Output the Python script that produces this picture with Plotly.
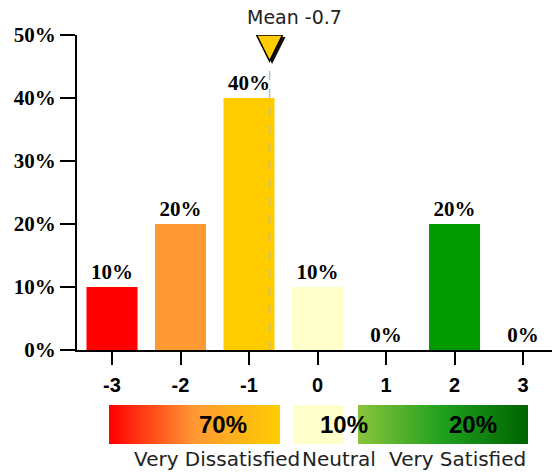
import plotly.graph_objects as go

# ---- data ----
scores = [-3, -2, -1, 0, 1, 2, 3]
shares = [0.10, 0.20, 0.40, 0.10, 0.00, 0.20, 0.00]
bar_colors = ["#FF0000", "#FF9933", "#FFCC00", "#FFFFCC", "#99CC33", "#009900", "#006600"]
group_labels = ["Very Dissatisfied", "Neutral", "Very Satisfied"]
y_ticks = [0, 0.1, 0.2, 0.3, 0.4, 0.5]

mean = sum(s * p for s, p in zip(scores, shares))
dissat = sum(p for s, p in zip(scores, shares) if s < 0)
neutral = sum(p for s, p in zip(scores, shares) if s == 0)
sat = sum(p for s, p in zip(scores, shares) if s > 0)

W, H = 552, 473
def dx(a, b):
    return [a / W, b / W]
def dy(top, bottom):
    return [(H - bottom) / H, (H - top) / H]

serif_b = dict(family="Liberation Serif", size=21, color="black", weight="bold")
sans_b = dict(family="Liberation Sans", size=20, color="black", weight="bold")

fig = go.Figure()
fig.add_trace(go.Bar(
    x=scores, y=shares, marker=dict(color=bar_colors, line=dict(width=0)),
    text=[f"{p:.0%}" for p in shares], textposition="outside",
    textfont=serif_b, cliponaxis=False, width=0.745, hoverinfo="skip",
))

# gradient boxes: (x axis, y axis, pixel extent, colorscale, value, text position in box)
boxes = [
    ("x2", "y2", (109, 280), [[0, "#FF0000"], [0.5, "#FF9933"], [1, "#FFCC00"]], dissat, 0.667),
    ("x3", "y3", (294, 343), [[0, "#FFFFCC"], [1, "#FFFFCC"]], neutral, 1.02),
    ("x4", "y4", (358, 528), [[0, "#88C43A"], [0.5, "#1F9F1F"], [1, "#006400"]], sat, 0.676),
]
N = 120
for i, (xa, ya, (l, r), cs, val, tpos) in enumerate(boxes):
    fig.add_trace(go.Heatmap(z=[list(range(N))], colorscale=cs, showscale=False,
                             xaxis=xa, yaxis=ya, hoverinfo="skip"))
    n = i + 2
    fig.update_layout(**{
        f"xaxis{n}": dict(domain=dx(l, r), visible=False, anchor=ya, automargin=False),
        f"yaxis{n}": dict(domain=dy(405, 444), visible=False, anchor=xa, automargin=False),
    })
    fig.add_annotation(x=tpos, y=0.5, xref=f"{xa} domain", yref=f"{ya} domain",
                       xanchor="center", yanchor="middle",
                       text=f"{val:.0%}", showarrow=False,
                       font=dict(family="Liberation Sans", size=24, color="black", weight="bold"))

label_pos = [(132, "left"), (300, "left"), (528, "right")]
for txt, (px, anc) in zip(group_labels, label_pos):
    fig.add_annotation(x=px / W, y=(H - 459) / H, xref="paper", yref="paper",
                       xanchor=anc, yanchor="middle", text=txt, showarrow=False,
                       font=dict(family="DejaVu Sans", size=20, color="#222222"))

# mean marker
fig.add_shape(type="line", xref="x", yref="y", x0=mean, x1=mean, y0=0, y1=0.5,
              line=dict(color="#BBBBBB", width=1.5, dash="dash"), layer="above")
fig.add_shape(type="path", xref="x", yref="y", xsizemode="pixel", ysizemode="pixel",
              xanchor=mean, yanchor=0.5, path="M -11,-2 L 16,-2 L 2.5,-29 Z",
              fillcolor="#111111", line=dict(width=0), layer="above")
fig.add_shape(type="path", xref="x", yref="y", xsizemode="pixel", ysizemode="pixel",
              xanchor=mean, yanchor=0.5, path="M -13,0 L 13,0 L 0,-26 Z",
              fillcolor="#FFCC00", line=dict(color="black", width=1.5), layer="above")
fig.add_annotation(x=mean, y=0.5, xref="x", yref="y", xshift=25, yshift=18,
                   text=f"Mean {mean:.1f}", showarrow=False, yanchor="middle",
                   font=dict(family="DejaVu Sans", size=19, color="#222222"))

fig.update_layout(
    width=W, height=H, template="none",
    margin=dict(l=0, r=0, t=0, b=0),
    paper_bgcolor="white", plot_bgcolor="white", showlegend=False,
    xaxis=dict(domain=dx(77, 552), range=[-3.511, 3.423], tickvals=scores,
               ticktext=[str(s) for s in scores], showgrid=False, zeroline=False,
               showline=True, linecolor="black", linewidth=2,
               ticks="outside", ticklen=13, tickwidth=2, tickcolor="black",
               tickfont=sans_b, ticklabelstandoff=3, automargin=False, anchor="y"),
    yaxis=dict(domain=dy(35, 350), range=[0, 0.5], tickvals=y_ticks,
               tickformat=".0%", showgrid=False, zeroline=False,
               showline=True, linecolor="black", linewidth=2,
               ticks="outside", ticklen=15, tickwidth=2, tickcolor="black",
               tickfont=serif_b, automargin=False, anchor="x"),
)

fig.write_html("out.html", config={"displayModeBar": False},
               post_script="document.body.style.margin='0';document.body.style.overflow='hidden';")
